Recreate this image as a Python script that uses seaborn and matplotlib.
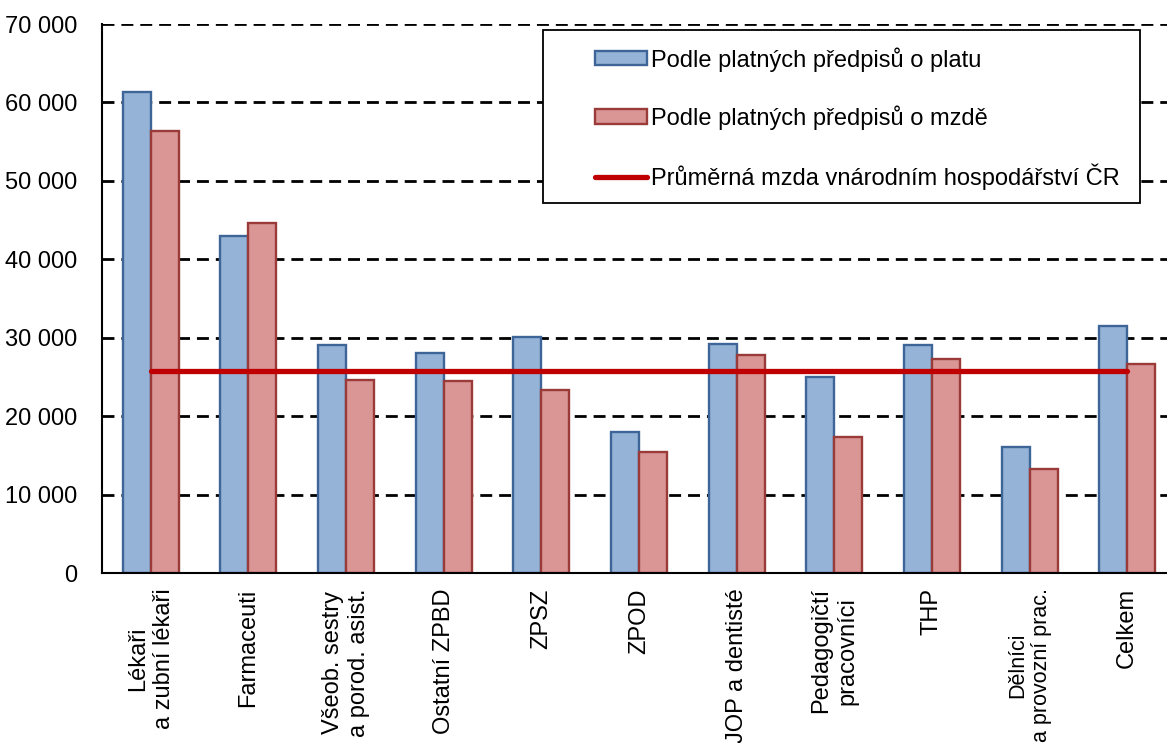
import numpy as np
import pandas as pd
import matplotlib
matplotlib.use("Agg")
import matplotlib.pyplot as plt
import seaborn as sns
from matplotlib.patches import Patch, Rectangle
from matplotlib.lines import Line2D
from matplotlib.ticker import FuncFormatter

# data
categories = [
    "Lékaři\na zubní lékaři", "Farmaceuti", "Všeob. sestry\na porod. asist.",
    "Ostatní ZPBD", "ZPSZ", "ZPOD", "JOP a dentisté", "Pedagogičtí\npracovníci",
    "THP", "Dělníci\na provozní prac.", "Celkem",
]
plat = [61300, 43000, 29100, 28050, 30050, 18000, 29200, 24950, 29050, 16100, 31450]
mzda = [56400, 44600, 24550, 24500, 23350, 15400, 27800, 17300, 27250, 13300, 26650]
prumerna_mzda = 25700

series_names = ["Podle platných předpisů o platu", "Podle platných předpisů o mzdě"]
line_name = "Průměrná mzda vnárodním hospodářství ČR"

df = pd.DataFrame({
    "kategorie": categories * 2,
    "hodnota": plat + mzda,
    "rada": [series_names[0]] * len(categories) + [series_names[1]] * len(categories),
})

sns.set_style("white")
plt.rcParams["font.family"] = ["Liberation Sans", "DejaVu Sans"]
plt.rcParams["text.color"] = "black"
plt.rcParams["xtick.labelcolor"] = "black"
plt.rcParams["ytick.labelcolor"] = "black"
plt.rcParams["xtick.color"] = "black"
plt.rcParams["ytick.color"] = "black"

fill_colors = {series_names[0]: "#95B3D7", series_names[1]: "#D99694"}
edge_colors = ["#3E6598", "#9A3B39"]

fig = plt.figure(figsize=(11.67, 7.43), dpi=100)
ax = fig.add_axes([102 / 1167, 170 / 743, 1074 / 1167, 549 / 743])

sns.barplot(data=df, x="kategorie", y="hodnota", hue="rada", palette=fill_colors,
            width=0.574, gap=0, ax=ax, legend=False, saturation=1)

# bar edges per series
for container, ec in zip(ax.containers, edge_colors):
    for bar in container:
        bar.set_edgecolor(ec)
        bar.set_linewidth(1.7)

# average wage line across category centres
xs = np.arange(len(categories))
ax.plot(xs, [prumerna_mzda] * len(xs), color="#C00000", lw=3.8,
        solid_capstyle="round", zorder=5)

ax.set_xlim(-0.5, len(categories) - 0.5)
ax.set_ylim(0, 70000)
ax.set_yticks(np.arange(0, 70001, 10000))
ax.yaxis.set_major_formatter(FuncFormatter(lambda v, p: f"{int(v):,}".replace(",", " ")))
ax.set_xlabel("")
ax.set_ylabel("")

ax.set_axisbelow(True)
ax.yaxis.grid(True, color="black", lw=2.0, linestyle=(0, (4.3, 2.5)))
ax.xaxis.grid(False)

for s in ["top", "right"]:
    ax.spines[s].set_visible(False)
for s in ["left", "bottom"]:
    ax.spines[s].set_color("black")
    ax.spines[s].set_linewidth(1.5)

ax.tick_params(axis="y", direction="inout", length=10, width=1.5, labelsize=17, pad=13)
ax.tick_params(axis="x", which="major", length=0, labelsize=17, pad=11)
ax.set_xticks(xs)
ax.set_xticklabels(categories, rotation=90, ha="center", va="top", multialignment="center")
# the longest label runs off the bottom edge, shrink it a little
ax.get_xticklabels()[9].set_fontsize(15.5)
ax.set_xticks(np.arange(-0.5, len(categories), 1.0), minor=True)
ax.tick_params(axis="x", which="minor", direction="out", length=6, width=1.5)

# legend box drawn separately so that the text can sit where the reference has it
fig.add_artist(Rectangle((543 / 1167, 1 - 203 / 743), 597 / 1167, 173 / 743,
                         transform=fig.transFigure, facecolor="white",
                         edgecolor="black", lw=1.3, zorder=3))

handles = [
    Patch(facecolor=fill_colors[series_names[0]], edgecolor=edge_colors[0], lw=1.7),
    Patch(facecolor=fill_colors[series_names[1]], edgecolor=edge_colors[1], lw=1.7),
    Line2D([], [], color="#C00000", lw=3.8, solid_capstyle="round"),
]
leg = fig.legend(handles, series_names + [line_name], loc="upper left",
                 bbox_to_anchor=(595 / 1167, 1 - 47 / 743),
                 fontsize=17, frameon=False, borderaxespad=0, borderpad=0,
                 handlelength=2.2, handleheight=0.55, handletextpad=0.17,
                 labelspacing=1.43)
leg.set_zorder(4)

plt.savefig("out.png", dpi=100)
